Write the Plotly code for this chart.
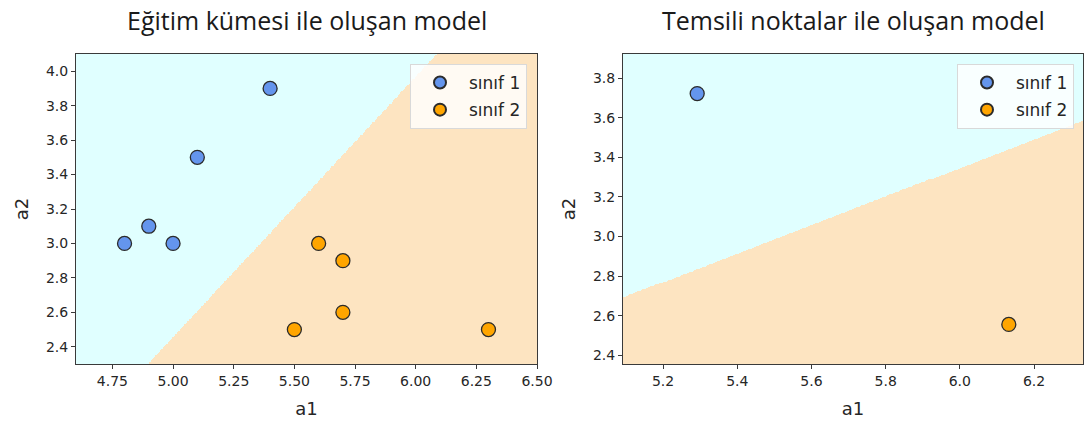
import numpy as np
import plotly.graph_objects as go

# ---------------- data ----------------
train_c1_x = [4.8, 4.9, 5.0, 5.1, 5.4]
train_c1_y = [3.0, 3.1, 3.0, 3.5, 3.9]
train_c2_x = [5.5, 5.6, 5.7, 5.7, 6.3]
train_c2_y = [2.5, 3.0, 2.9, 2.6, 2.5]

# linear model learned from the training set
left_w = [1.51, -1.0]
left_b = -5.094

# representative points (prototypes)
rep_c1_x = [5.292]
rep_c1_y = [3.722]
rep_c2_x = [6.132]
rep_c2_y = [2.556]

left_xticks = [4.75, 5.00, 5.25, 5.50, 5.75, 6.00, 6.25, 6.50]
left_yticks = [2.4, 2.6, 2.8, 3.0, 3.2, 3.4, 3.6, 3.8, 4.0]
right_xticks = [5.2, 5.4, 5.6, 5.8, 6.0, 6.2]
right_yticks = [2.4, 2.6, 2.8, 3.0, 3.2, 3.4, 3.6, 3.8]

titles = ["Eğitim kümesi ile oluşan model", "Temsili noktalar ile oluşan model"]
legend_names = ["sınıf 1", "sınıf 2"]

C1_BG = "#E0FFFF"
C2_BG = "#FDE4C1"
C1 = "#6495ED"
C2 = "#FFA500"
EDGE = "#2b2b2b"

# ---------------- ranges from data (pad 0.2) ----------------
lx = train_c1_x + train_c2_x
ly = train_c1_y + train_c2_y
lxr = [min(lx) - 0.2, max(lx) + 0.2]
lyr = [min(ly) - 0.2, max(ly) + 0.2]
rx = rep_c1_x + rep_c2_x
ry = rep_c1_y + rep_c2_y
rxr = [min(rx) - 0.2, max(rx) + 0.2]
ryr = [min(ry) - 0.2, max(ry) + 0.2]

h = 0.005
gx1 = np.arange(lxr[0], lxr[1] + h, h)
gy1 = np.arange(lyr[0], lyr[1] + h, h)
XX1, YY1 = np.meshgrid(gx1, gy1)
Z1 = (left_w[0] * XX1 + left_w[1] * YY1 + left_b > 0).astype(int)

gx2 = np.arange(rxr[0], rxr[1] + h, h)
gy2 = np.arange(ryr[0], ryr[1] + h, h)
XX2, YY2 = np.meshgrid(gx2, gy2)
d1 = (XX2 - rep_c1_x[0]) ** 2 + (YY2 - rep_c1_y[0]) ** 2
d2 = (XX2 - rep_c2_x[0]) ** 2 + (YY2 - rep_c2_y[0]) ** 2
Z2 = (d2 < d1).astype(int)

cs = [[0, C1_BG], [0.5, C1_BG], [0.5, C2_BG], [1, C2_BG]]

fig = go.Figure()
fig.add_trace(go.Heatmap(x=gx1, y=gy1, z=Z1, colorscale=cs, zmin=0, zmax=1,
                         showscale=False, zsmooth=False, hoverinfo="skip",
                         xaxis="x", yaxis="y"))
fig.add_trace(go.Heatmap(x=gx2, y=gy2, z=Z2, colorscale=cs, zmin=0, zmax=1,
                         showscale=False, zsmooth=False, hoverinfo="skip",
                         xaxis="x2", yaxis="y2"))

mk = lambda c: dict(color=c, size=14, line=dict(color=EDGE, width=1.3))

fig.add_trace(go.Scatter(x=train_c1_x, y=train_c1_y, mode="markers", marker=mk(C1),
                         name=legend_names[0], legend="legend", legendgroup="a",
                         xaxis="x", yaxis="y"))
fig.add_trace(go.Scatter(x=train_c2_x, y=train_c2_y, mode="markers", marker=mk(C2),
                         name=legend_names[1], legend="legend", legendgroup="b",
                         xaxis="x", yaxis="y"))
fig.add_trace(go.Scatter(x=rep_c1_x, y=rep_c1_y, mode="markers", marker=mk(C1),
                         name=legend_names[0], legend="legend2", legendgroup="c",
                         xaxis="x2", yaxis="y2"))
fig.add_trace(go.Scatter(x=rep_c2_x, y=rep_c2_y, mode="markers", marker=mk(C2),
                         name=legend_names[1], legend="legend2", legendgroup="d",
                         xaxis="x2", yaxis="y2"))

W, H = 1087, 423
dx1 = [76 / W, 537 / W]
dx2 = [623 / W, 1083 / W]
dy = [(H - 364) / H, (H - 54) / H]

tickfont = dict(family="DejaVu Sans", size=14, color="#262626")
axtitle = dict(family="DejaVu Sans", size=18, color="#262626")


def ax(rng, ticks, fmt, title, domain, anchor, standoff):
    return dict(range=rng, tickvals=ticks, ticktext=[fmt.format(t) for t in ticks],
                domain=domain, anchor=anchor, showgrid=False, zeroline=False,
                showline=True, mirror=True, linecolor="#3a3a3a", linewidth=1,
                ticks="outside", ticklen=4, tickcolor="#3a3a3a", tickfont=tickfont,
                automargin=False,
                title=dict(text=title, font=axtitle, standoff=standoff))


legend_common = dict(bgcolor="rgba(255,255,255,0.8)", bordercolor="#d9d9d9", borderwidth=1,
                     font=dict(family="DejaVu Sans", size=17, color="#262626"),
                     xanchor="right", yanchor="top", itemsizing="constant",
                     itemwidth=48, tracegroupgap=2, traceorder="grouped")

fig.update_layout(
    width=W, height=H, margin=dict(l=0, r=0, t=0, b=0, autoexpand=False),
    paper_bgcolor="white", plot_bgcolor="white",
    xaxis=ax(lxr, left_xticks, "{:.2f}", "a1", dx1, "y", 14),
    yaxis=ax(lyr, left_yticks, "{:.1f}", "a2", dy, "x", 12),
    xaxis2=ax(rxr, right_xticks, "{:.1f}", "a1", dx2, "y2", 14),
    yaxis2=ax(ryr, right_yticks, "{:.1f}", "a2", dy, "x2", 12),
    legend=dict(x=527 / W, y=(H - 64) / H, **legend_common),
    legend2=dict(x=1074 / W, y=(H - 64) / H, **legend_common),
    annotations=[
        dict(text=titles[0], x=(dx1[0] + dx1[1]) / 2, y=(H - 20) / H, xref="paper", yref="paper",
             showarrow=False, font=dict(family="Open Sans", size=25, color="#1a1a1a"),
             xanchor="center", yanchor="middle"),
        dict(text=titles[1], x=(dx2[0] + dx2[1]) / 2, y=(H - 20) / H, xref="paper", yref="paper",
             showarrow=False, font=dict(family="Open Sans", size=25, color="#1a1a1a"),
             xanchor="center", yanchor="middle"),
    ],
)

fig.write_html("out.html")
